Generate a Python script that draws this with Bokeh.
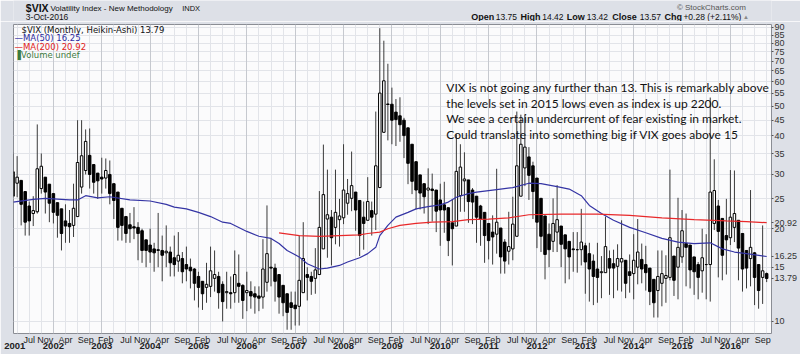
import math
from bokeh.plotting import figure
from bokeh.layouts import column
from bokeh.models import Range1d, FixedTicker, LinearAxis, Label, Grid
from bokeh.core.properties import value
from bokeh.embed import file_html
from bokeh.resources import INLINE

# ---------------- data (monthly Heikin-Ashi candles, Mar 2001 .. Oct 2016) ----------------
first_month = "2001-03"
ha_open = [25.5, 28.1, 28.7, 26.4, 23.7, 22.4, 22.7, 27.0, 29.4, 27.9,
           26.0, 24.3, 23.2, 21.2, 20.8, 20.5, 21.9, 27.3, 30.9, 34.6, 32.3, 30.3,
           29.4, 29.2, 30.0, 28.0, 26.3, 23.3, 21.9, 20.6, 20.3, 20.2, 19.7, 18.4,
           17.7, 17.2, 17.0, 17.0, 16.7, 16.8, 16.1, 15.7, 16.0, 15.3, 15.0, 14.8,
           14.0, 13.5, 12.9, 13.0, 13.8, 14.0, 13.2, 12.4, 12.4, 12.4, 13.3, 13.1,
           12.4, 12.5, 12.3, 12.1, 12.0, 13.4, 15.0, 14.9, 14.2, 13.1, 12.3, 11.5,
           11.3, 11.2, 12.4, 14.2, 14.0, 13.8, 14.2, 17.2, 21.5, 21.8, 20.2, 21.4,
           21.7, 24.2, 25.1, 26.3, 24.7, 21.8, 21.3, 22.9, 22.3, 27.2, 41.1, 50.8,
           50.7, 47.8, 46.5, 45.0, 42.5, 37.6, 33.0, 29.9, 28.0, 26.7, 26.9, 26.7,
           24.8, 23.9, 23.4, 20.9, 20.4, 25.6, 28.6, 28.8, 26.7, 25.5, 23.7, 22.6,
           20.8, 19.5, 19.2, 20.1, 18.1, 16.9, 17.2, 18.9, 25.5, 31.5, 34.2, 32.0,
           29.2, 25.1, 22.0, 19.2, 18.2, 19.5, 20.4, 19.1, 18.2, 17.2, 17.1, 17.1,
           17.6, 16.6, 15.7, 14.8, 14.4, 14.4, 16.0, 15.4, 15.1, 15.6, 15.8, 14.5,
           14.3, 15.0, 15.9, 15.3, 14.9, 13.7, 12.6, 13.3, 13.8, 13.9, 16.3, 15.0,
           16.2, 17.9, 17.7, 16.2, 15.3, 14.6, 15.3, 15.3, 20.8, 23.7, 21.6, 19.0,
           18.7, 20.2, 21.3, 19.3, 17.0, 16.0, 16.7, 15.3, 13.9, 14.3]
ha_high = [35.3, 34.4, 28.7, 26.4, 24.5, 25.5, 43.6, 35.1, 29.4, 27.9,
           26.0, 24.3, 23.2, 24.0, 23.0, 28.0, 45.0, 45.0, 42.0, 42.3, 32.3, 30.3,
           34.0, 33.8, 33.3, 28.0, 26.3, 23.3, 22.0, 22.5, 23.5, 21.0, 20.0, 18.4,
           20.0, 18.0, 22.5, 19.0, 20.5, 17.5, 19.0, 19.5, 16.8, 17.5, 16.0, 14.9,
           14.5, 13.5, 15.5, 17.5, 17.0, 14.5, 13.5, 14.5, 14.0, 17.0, 16.5, 13.2,
           14.5, 13.5, 13.0, 13.0, 18.5, 23.8, 18.6, 15.4, 14.2, 13.1, 12.3, 12.5,
           12.5, 19.0, 21.0, 15.0, 14.5, 17.3, 26.5, 37.5, 31.1, 23.0, 31.1, 25.0,
           37.6, 29.0, 35.6, 26.3, 24.7, 24.5, 29.4, 24.5, 48.0, 89.5, 81.5, 68.6,
           57.4, 52.7, 53.4, 45.8, 42.5, 37.6, 33.0, 29.9, 28.0, 31.4, 30.2, 26.7,
           28.0, 28.4, 23.4, 25.0, 40.5, 37.6, 35.4, 28.8, 27.1, 25.5, 23.9, 22.6,
           20.8, 22.1, 31.3, 20.1, 18.5, 22.7, 25.4, 48.0, 46.9, 46.9, 36.8, 33.0,
           29.2, 25.1, 22.0, 20.8, 25.1, 27.7, 20.4, 19.1, 18.2, 19.5, 19.5, 23.2,
           18.0, 18.0, 16.5, 18.0, 16.3, 21.9, 17.0, 17.1, 17.8, 21.3, 15.8, 16.5,
           19.2, 21.5, 17.9, 17.6, 14.9, 13.7, 17.0, 17.0, 16.4, 31.1, 16.3, 25.2,
           23.0, 22.4, 17.7, 16.2, 15.6, 20.0, 19.2, 53.3, 33.6, 24.8, 21.6, 25.0,
           31.0, 30.9, 21.3, 19.3, 17.0, 26.7, 16.8, 15.3, 20.5, 14.42]
ha_low = [25.5, 25.3, 20.5, 19.0, 19.0, 20.4, 22.4, 26.0, 22.4, 21.0,
          20.8, 18.7, 17.0, 18.0, 18.0, 18.8, 21.9, 26.0, 30.0, 27.0, 26.0, 25.0,
          26.0, 27.0, 24.0, 21.5, 18.3, 18.3, 18.0, 18.0, 18.5, 15.8, 15.5, 15.0,
          15.5, 14.5, 15.0, 13.5, 15.0, 14.0, 14.0, 14.5, 13.3, 13.5, 12.8, 11.7,
          11.1, 10.9, 11.5, 12.0, 12.5, 11.0, 10.0, 11.0, 11.0, 11.5, 11.5, 10.2,
          10.8, 11.0, 10.6, 10.8, 11.0, 12.5, 13.0, 11.6, 10.6, 10.4, 9.4, 9.4,
          9.7, 9.7, 12.4, 11.7, 12.2, 12.3, 14.2, 17.2, 16.1, 15.2, 17.8, 17.5,
          20.7, 22.2, 22.8, 19.7, 16.3, 17.1, 21.3, 19.0, 19.8, 27.2, 41.1, 38.7,
          37.6, 37.1, 38.3, 33.9, 27.9, 25.9, 23.1, 23.1, 22.4, 20.7, 21.1, 19.5,
          17.6, 19.4, 16.3, 15.2, 20.4, 22.7, 22.7, 20.9, 20.7, 18.0, 17.6, 15.5,
          15.9, 15.3, 16.6, 14.3, 14.3, 15.3, 15.8, 18.9, 25.5, 27.5, 24.8, 21.5,
          17.3, 16.8, 13.7, 15.0, 16.8, 16.8, 15.0, 13.3, 13.7, 14.5, 14.4, 15.2,
          12.3, 11.6, 11.3, 11.5, 11.9, 14.4, 12.2, 11.9, 12.6, 12.5, 11.9, 12.4,
          11.8, 13.2, 13.3, 12.6, 11.3, 10.3, 10.3, 11.2, 11.5, 13.6, 12.1, 11.8,
          15.5, 13.0, 12.8, 12.2, 11.8, 12.4, 11.8, 11.6, 19.8, 13.9, 13.6, 14.2,
          17.7, 18.1, 13.6, 12.5, 12.8, 13.0, 11.3, 11.0, 11.4, 13.42]
ha_close = [30.6, 29.4, 24.0, 21.0, 21.2, 22.9, 31.3, 31.9, 26.3, 24.2,
            22.6, 22.1, 19.3, 20.4, 20.3, 23.3, 32.8, 34.5, 38.4, 30.0, 28.3, 28.6,
            29.0, 30.9, 26.0, 24.7, 20.2, 20.5, 19.3, 20.0, 20.1, 19.3, 17.0, 17.0,
            16.8, 16.7, 17.1, 16.4, 16.9, 15.5, 15.3, 16.4, 14.5, 14.8, 14.6, 13.3,
            12.9, 12.3, 13.2, 14.6, 14.2, 12.4, 11.6, 12.5, 12.3, 14.2, 13.0, 11.7,
            12.6, 12.1, 12.0, 11.9, 14.8, 16.6, 14.9, 13.5, 12.0, 11.5, 10.7, 11.1,
            11.0, 13.6, 16.0, 13.9, 13.5, 14.7, 20.2, 25.8, 22.2, 18.7, 22.6, 22.0,
            26.7, 26.0, 27.6, 23.0, 19.0, 20.8, 24.5, 21.8, 32.0, 55.1, 60.4, 50.6,
            45.0, 45.2, 43.5, 40.1, 32.6, 28.5, 26.7, 26.1, 25.4, 27.1, 26.6, 22.8,
            23.0, 23.0, 18.3, 20.0, 30.7, 31.7, 29.0, 24.5, 24.4, 21.8, 21.5, 19.0,
            18.3, 18.8, 21.0, 16.2, 15.7, 17.5, 20.7, 32.0, 37.6, 36.8, 29.8, 26.4,
            21.0, 18.9, 16.5, 17.1, 20.8, 21.4, 17.8, 17.2, 16.2, 17.1, 17.1, 18.1,
            15.6, 14.8, 14.0, 13.9, 14.5, 17.5, 14.9, 14.9, 16.0, 16.0, 13.3, 14.1,
            15.8, 16.8, 14.8, 14.4, 12.5, 11.5, 14.0, 14.3, 14.1, 18.7, 13.6, 17.4,
            19.7, 17.4, 14.7, 14.5, 13.9, 16.1, 15.3, 26.3, 26.6, 19.6, 16.4, 18.4,
            21.8, 22.4, 17.3, 14.8, 14.9, 17.4, 13.9, 12.6, 14.6, 13.79]

ma50_months = ["2001-03", "2001-08", "2001-11", "2002-05", "2002-07", "2002-09", "2002-12",
               "2003-03", "2003-08", "2004-01", "2004-05", "2004-07", "2004-10", "2005-01",
               "2005-04", "2005-07", "2005-09", "2006-01", "2006-04", "2006-07", "2006-09",
               "2006-11", "2007-02", "2007-04", "2007-07", "2007-09", "2007-12", "2008-02",
               "2008-05", "2008-07", "2008-09", "2008-10", "2008-12", "2009-02", "2009-05",
               "2009-07", "2009-10", "2010-01", "2010-03", "2010-05", "2010-08", "2010-10",
               "2011-01", "2011-03", "2011-07", "2011-11", "2012-02", "2012-06", "2012-09",
               "2012-12", "2013-02", "2013-05", "2013-08", "2013-12", "2014-04", "2014-08",
               "2014-12", "2015-04", "2015-08", "2015-11", "2016-02", "2016-05", "2016-10"]
ma50_values = [24.4, 24.9, 25.1, 24.8, 24.8, 25.6, 25.2,
               25.4, 24.8, 24.6, 24.0, 23.5, 23.2, 22.6,
               21.9, 21.0, 20.8, 19.6, 18.9, 18.6, 17.9,
               17.0, 16.2, 15.4, 14.8, 14.9, 15.2, 15.6,
               16.1, 16.6, 17.4, 19.0, 20.5, 21.8, 22.6,
               23.2, 23.6, 23.9, 24.4, 25.3, 26.0, 26.3,
               26.6, 26.8, 27.2, 28.1, 28.0, 27.4, 26.9,
               25.6, 23.8, 22.4, 21.3, 20.2, 19.4, 18.6,
               18.1, 17.9, 18.0, 17.2, 16.8, 16.6, 16.25]

ma200_months = ["2006-09", "2007-02", "2007-07", "2007-12", "2008-05", "2008-07", "2008-10",
                "2008-12", "2009-03", "2009-07", "2009-11", "2010-04", "2010-08", "2011-01",
                "2011-06", "2011-11", "2012-07", "2013-04", "2013-12", "2014-08", "2015-04",
                "2015-12", "2016-05", "2016-10"]
ma200_values = [19.4, 19.0, 18.9, 19.0, 19.1, 19.3, 19.5,
                20.0, 20.5, 20.8, 21.0, 21.1, 21.4, 21.5,
                21.7, 22.2, 22.3, 22.3, 22.1, 21.7, 21.4,
                21.2, 21.1, 20.92]

y_ticks = [10, 15, 20, 25, 30, 35, 40, 45, 50, 55, 60, 65, 70, 75, 80, 85, 90]
month_label_months = ["2001-07", "2001-11", "2002-04", "2002-09", "2003-02", "2003-07", "2003-11",
                      "2004-04", "2004-09", "2005-02", "2005-07", "2005-11", "2006-04", "2006-09",
                      "2007-02", "2007-07", "2007-11", "2008-04", "2008-09", "2009-02", "2009-07",
                      "2009-11", "2010-04", "2010-09", "2011-02", "2011-07", "2011-11", "2012-04",
                      "2012-09", "2013-02", "2013-07", "2013-11", "2014-04", "2014-09", "2015-02",
                      "2015-07", "2015-11", "2016-04", "2016-09"]
month_names = ["Jan", "Feb", "Mar", "Apr", "May", "Jun", "Jul", "Aug", "Sep", "Oct", "Nov", "Dec"]
years = list(range(2001, 2017))

last_ma50 = 16.25
last_ma200 = 20.92
last_ha = 13.79


def midx(s):
    y, mo = s.split("-")
    return (int(y) - 2002) * 12 + int(mo) - 1


m_first = midx(first_month)
xs = [m_first + i for i in range(len(ha_close))]

BG = "#dde0e7"
X0, X1 = -9.9, 178.2
Y0, Y1 = 9.14, 92.0

# ---------------- header strip ----------------
HH = 21
hdr = figure(width=800, height=HH, x_range=Range1d(0, 800), y_range=Range1d(HH, 0),
             x_axis_location=None, y_axis_location=None, toolbar_location=None,
             output_backend="svg", min_border=0, title=None)
hdr.background_fill_color = BG
hdr.border_fill_color = BG
hdr.outline_line_color = None
hdr.grid.visible = False


def htext(xx, yy, tt, size, bold=False, color="#111111", align="left", font="Liberation Sans"):
    hdr.text(x=xx, y=yy, text=tt, text_font=value(font), text_font_size=value(size),
             text_font_style="bold" if bold else "normal", text_color=color,
             text_baseline="middle", text_align=align)


htext([13], [7.5], ["$VIX"], "10.5px", bold=True)
htext([39], [8], ["Volatility Index - New Methodology"], "8px")
htext([178], [8], ["INDX"], "7.5px")
htext([13], [16.8], ["3-Oct-2016"], "8.5px")
htext([773], [7], ["\u00a9 StockCharts.com"], "8px", color="#555555", align="right")
htext([483, 535, 584, 632, 687], [16.8] * 5, ["Open", "High", "Low", "Close", "Chg"], "9px", bold=True)
htext([509, 558, 605, 661, 707], [16.8] * 5, ["13.75", "14.42", "13.42", "13.57", "+0.28 (+2.11%)"], "8.5px")
htext([770], [16.5], ["\u25b2"], "6px", color="#888888")

# ---------------- main chart ----------------
p = figure(width=800, height=354 - HH, x_range=Range1d(X0, X1), y_range=Range1d(Y0, Y1),
           y_axis_type="log", y_axis_location="right", x_axis_location=None,
           output_backend="svg", toolbar_location=None, title=None,
           min_border_left=13, min_border_right=27, min_border_top=24 - HH, min_border_bottom=21)
p.border_fill_color = BG
p.background_fill_color = "#fbfbfc"
p.outline_line_color = "#8a8d94"

tag_vals = [last_ha, last_ma50, last_ma200]
ya = p.yaxis[0]
ya.ticker = FixedTicker(ticks=y_ticks + tag_vals)
overrides = {t: str(t) for t in y_ticks}
overrides.update({v: f"{v:.2f}" for v in tag_vals})
ya.major_label_overrides = overrides
ya.axis_line_color = None
ya.major_tick_out = 2
ya.major_tick_in = 0
ya.minor_tick_out = 0
ya.minor_tick_in = 0
ya.major_tick_line_color = "#555555"
ya.major_label_standoff = 1
ya.major_label_text_font = "Liberation Sans"
ya.major_label_text_font_size = "9px"
ya.major_label_text_color = "#333333"

p.ygrid.ticker = FixedTicker(ticks=y_ticks)
p.ygrid.grid_line_color = "#e2e4e9"
p.xgrid.visible = False
quarter_ticks = [m for m in range(-9, 178) if m % 3 == 0 and m % 12 != 0]
year_ticks = [midx(f"{y}-01") for y in years if y > 2001]
p.add_layout(Grid(dimension=0, ticker=FixedTicker(ticks=quarter_ticks), grid_line_color="#e2e4e9"))
p.add_layout(Grid(dimension=0, ticker=FixedTicker(ticks=year_ticks), grid_line_color="#c6c9cf"))

month_pos = [midx(s) for s in month_label_months]
ax_m = LinearAxis(ticker=FixedTicker(ticks=month_pos),
                  major_label_overrides={m: month_names[int(s.split("-")[1]) - 1]
                                         for m, s in zip(month_pos, month_label_months)})
# the first year (2001) starts before the window: its label sits at the left edge
year_pos = [max(m_first, X0 + 0.3)] + year_ticks
ax_y = LinearAxis(ticker=FixedTicker(ticks=year_pos),
                  major_label_overrides={m: str(y) for m, y in zip(year_pos, years)})
for ax, st in ((ax_m, 1), (ax_y, -5)):
    ax.axis_line_color = None
    ax.major_tick_line_color = None
    ax.minor_tick_line_color = None
    ax.major_tick_out = 0
    ax.major_tick_in = 0
    ax.major_label_standoff = st
    ax.major_label_text_font = "Liberation Sans"
    ax.major_label_text_font_size = "9px"
    ax.major_label_text_color = "#222222"
ax_y.major_label_text_font_style = "bold"
ax_y.major_label_text_font_size = "9.5px"
p.add_layout(ax_m, "below")
p.add_layout(ax_y, "below")

# candles
p.segment(x0=xs, y0=ha_low, x1=xs, y1=ha_high, line_color="#3a3a3a", line_width=1)
up = [i for i in range(len(xs)) if ha_close[i] >= ha_open[i]]
dn = [i for i in range(len(xs)) if ha_close[i] < ha_open[i]]
p.vbar(x=[xs[i] for i in up], bottom=[ha_open[i] for i in up], top=[ha_close[i] for i in up],
       width=0.62, fill_color="white", line_color="black", line_width=1)
p.vbar(x=[xs[i] for i in dn], bottom=[ha_close[i] for i in dn], top=[ha_open[i] for i in dn],
       width=0.62, fill_color="black", line_color="black", line_width=1)

p.line([midx(s) for s in ma50_months], ma50_values, line_color="#3434a4", line_width=1.2)
p.line([midx(s) for s in ma200_months], ma200_values, line_color="#e8282a", line_width=1.2)


# annotation placement helpers: pixel offsets inside the plot frame -> data coordinates
def dx(px):
    return X0 + px / 760.0 * (X1 - X0)


def dy(py):
    return math.exp(math.log(Y1) - py / 309.0 * math.log(Y1 / Y0))


def lab(text, px, py, size, color="#111111", font="DejaVu Sans"):
    p.add_layout(Label(x=dx(px), y=dy(py), text=text, text_font=font, text_font_size=size,
                       text_color=color, text_baseline="middle", text_align="left"))


lab(f"$VIX (Monthly, Heikin-Ashi) {last_ha:.2f}", 8, 5, "8.5px")
lab(f"\u2014MA(50) {last_ma50:.2f}", 1, 13.5, "8.5px", color="#2b2ba0")
lab(f"\u2014MA(200) {last_ma200:.2f}", 1, 22, "8.5px", color="#e02020")
lab("\u2590Volume undef", 1, 30.5, "8.5px", color="#3c7a3c")

note = ["VIX is not going any further than 13. This is remarkably above",
        "the levels set in 2015 lows even as index is up 2200.",
        "We see a certain undercurrent of fear existing in market.",
        "Could translate into something big if VIX goes above 15"]
for k, line in enumerate(note):
    lab(line, 434, 63 + 15.5 * k, "12px", font="Lato")

open("out.html", "w").write(file_html(column(hdr, p, spacing=0), INLINE))
